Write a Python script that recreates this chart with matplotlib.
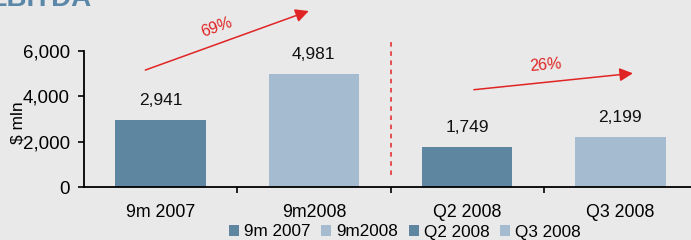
import matplotlib
matplotlib.use("Agg")
import matplotlib.pyplot as plt

categories = ["9m 2007", "9m2008", "Q2 2008", "Q3 2008"]
values = [2941, 4981, 1749, 2199]
value_labels = ["2,941", "4,981", "1,749", "2,199"]
growth_labels = ["69%", "26%"]
yticks = [0, 2000, 4000, 6000]
ytick_labels = ["0", "2,000", "4,000", "6,000"]

dark = "#5e86a1"
light = "#a5bbcf"
colors = [dark, light, dark, light]
red = "#e02424"
bg = "#e9e9e9"

plt.rcParams['font.family'] = ['Liberation Sans', 'DejaVu Sans']

fig = plt.figure(figsize=(6.91, 2.40), dpi=100, facecolor=bg)
ax = fig.add_axes([84/691, 53/240, 613/691, 187/240])
ax.set_facecolor("none")

x = list(range(len(categories)))
bars = []
for i in x:
    b = ax.bar(i, values[i], width=0.59, color=colors[i], label=categories[i], zorder=2)
    bars.append(b)
    ax.annotate(value_labels[i], (i, values[i]), xytext=(0, 11), textcoords="offset points",
                ha="center", va="baseline", fontsize=12.5, color="#111111")

ax.set_xlim(-0.5, 3.5)
ax.set_ylim(0, 8232)
for s in ["top", "right"]:
    ax.spines[s].set_visible(False)
ax.spines["left"].set_bounds(0, 6000)
ax.spines["left"].set_linewidth(1.3)
ax.spines["bottom"].set_linewidth(1.3)

ax.set_yticks(yticks)
ax.set_yticklabels(ytick_labels, fontsize=13.5)
ax.tick_params(axis="y", length=4, width=1.2, pad=6)
ax.set_xticks(x)
ax.set_xticklabels(categories, fontsize=12.8)
ax.tick_params(axis="x", which="major", length=0, pad=12.5)
ax.set_xticks([0.5, 1.5, 2.5], minor=True)
ax.tick_params(axis="x", which="minor", length=4, width=1.2, direction="out")

ax.set_ylabel("$ mln", fontsize=12.5)
ax.yaxis.set_label_coords(-0.095, 0.342)

# dashed separator
ax.plot([1.5, 1.5], [530, 6470], linestyle=(0, (3, 3)), color=red, lw=1.1, zorder=1)

# growth arrows
ax.annotate("", xy=(0.984, 7790), xytext=(-0.117, 5106),
            arrowprops=dict(arrowstyle="-|>", color=red, lw=1.1, mutation_scale=20))
ax.annotate("", xy=(3.10, 5018), xytext=(2.026, 4270),
            arrowprops=dict(arrowstyle="-|>", color=red, lw=1.1, mutation_scale=20))
ax.text(0.365, 7043, growth_labels[0], color=red, fontsize=11.5, rotation=20,
        ha="center", va="center")
ax.text(2.515, 5370, growth_labels[1], color=red, fontsize=11.5, rotation=5,
        ha="center", va="center")

fig.text(-12/691, 1 - 5.5/240, "EBITDA", fontsize=20, fontweight="bold",
         color="#5b87a8", ha="left", va="baseline")

fig.legend(handles=[b[0] for b in bars], labels=categories, loc="center",
           bbox_to_anchor=(405/691, 1 - 232/240), ncol=4, frameon=False,
           fontsize=12.3, handlelength=0.6, handleheight=0.6, handletextpad=0.3,
           columnspacing=0.6, borderpad=0, borderaxespad=0)

fig.savefig("out.png", dpi=100, facecolor=bg)
